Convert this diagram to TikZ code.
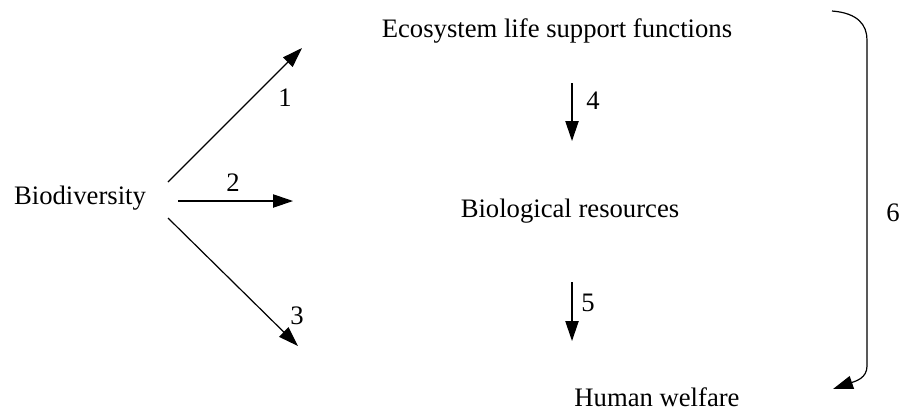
\documentclass[tikz,border=0pt]{standalone}
\usepackage{fontspec}
\setmainfont{Liberation Serif}
\usetikzlibrary{arrows.meta}
\tikzset{
  flow/.style={draw=black,line width=0.9pt,-{Triangle[length=15pt,width=10pt]}},
  term/.style={font=\fontsize{20}{24}\selectfont,inner sep=0pt},
  num/.style={font=\fontsize{20}{24}\selectfont,inner sep=0pt}
}
\begin{document}
\begin{tikzpicture}[x=0.75pt,y=-0.75pt]
\useasboundingbox (0,0) rectangle (902,412);
% the four terms
\node[term] (bio) at (80,198) {Biodiversity};
\node[term] (eco) at (557,31) {Ecosystem life support functions};
\node[term] (res) at (570,211) {Biological resources};
\node[term] (hum) at (657,397) {Human welfare};
% free ends of the connectors
\coordinate (s1) at (168,182);
\coordinate (t1) at (302,48);
\coordinate (s2) at (178,201);
\coordinate (t2) at (293,201);
\coordinate (s3) at (168,218);
\coordinate (t3) at (298,346);
\coordinate (s4) at (572,83);
\coordinate (t4) at (572,141);
\coordinate (s5) at (572,282);
\coordinate (t5) at (572,341);
\coordinate (b0) at (832,11);
\coordinate (b1) at (867,40);
\coordinate (b2) at (867,366);
\coordinate (t6) at (833,389);
% from biodiversity
\draw[flow] (s1) -- (t1);
\draw[flow] (s2) -- (t2);
\draw[flow] (s3) -- (t3);
% down the chain
\draw[flow] (s4) -- (t4);
\draw[flow] (s5) -- (t5);
% the bracket
\draw[flow] (b0) .. controls (858,13) and (867,25) .. (b1) -- (b2)
    .. controls (867,378) and (856,381) .. (t6);
% numbers
\node[num] (n1) at (285,98) {1};
\node[num] (n2) at (233,183) {2};
\node[num] (n3) at (297,316) {3};
\node[num] (n4) at (593,101) {4};
\node[num] (n5) at (588,303) {5};
\node[num] (n6) at (893,213) {6};
\end{tikzpicture}
\end{document}
